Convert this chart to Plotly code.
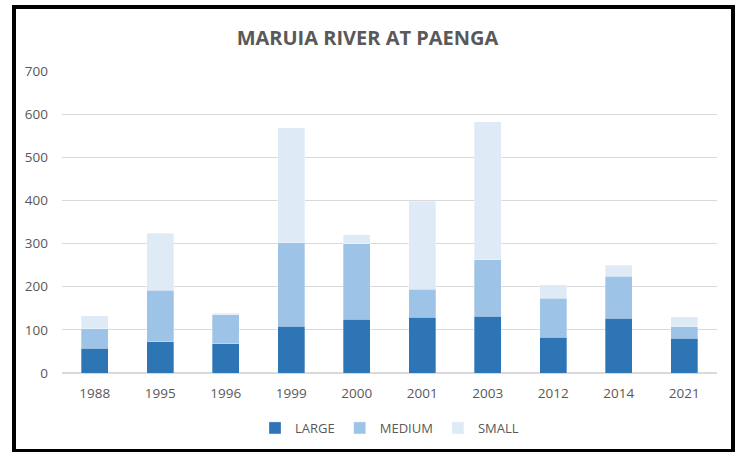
import plotly.graph_objects as go

years = ["1988", "1995", "1996", "1999", "2000", "2001", "2003", "2012", "2014", "2021"]
large = [57, 72, 68, 108, 125, 129, 131, 83, 127, 80]
medium = [46, 120, 67, 194, 175, 65, 131, 90, 97, 27]
small = [30, 132, 4, 267, 20, 204, 320, 31, 26, 23]

colors = {"LARGE": "#2E75B6", "MEDIUM": "#9DC3E6", "SMALL": "#DEEBF7"}
font_family = "Open Sans, DejaVu Sans, sans-serif"

fig = go.Figure()
for name, vals in [("LARGE", large), ("MEDIUM", medium), ("SMALL", small)]:
    fig.add_trace(go.Bar(
        x=years, y=vals, name=name,
        marker=dict(color=colors[name], line=dict(color="rgba(255,255,255,0.6)", width=0.5)),
    ))

W, H = 735, 452
ml, mr, mt, mb = 62, 18, 71, 79
pw, ph = W - ml - mr, H - mt - mb

def px_x(x):
    return (x - ml) / pw

def px_y(y):
    return (H - mb - y) / ph

fig.update_layout(
    template="none",
    width=W, height=H,
    barmode="stack", bargap=0.59,
    margin=dict(l=ml, r=mr, t=mt, b=mb, pad=0, autoexpand=False),
    paper_bgcolor="white", plot_bgcolor="white",
    font=dict(family=font_family, size=13, color="#595959"),
    title=dict(text="MARUIA RIVER AT PAENGA", x=0.5, xanchor="center",
               y=1 - 38 / H, yanchor="middle",
               font=dict(family=font_family, size=20, color="#595959", weight="bold")),
    showlegend=True,
    legend=dict(orientation="h", x=0.5, xanchor="center", y=px_y(428), yanchor="middle",
                traceorder="normal", font=dict(size=13, color="#595959"),
                itemwidth=30, tracegroupgap=0),
    xaxis=dict(type="category", showgrid=False, showline=False, ticks="", automargin=False,
               tickfont=dict(size=13.5, color="#595959"), ticklabelstandoff=10),
    yaxis=dict(range=[0, 700], dtick=100, showgrid=True, gridcolor="#D9D9D9", gridwidth=1,
               zeroline=True, zerolinecolor="#D9D9D9", zerolinewidth=1.5, automargin=False,
               showline=False, ticks="", tickfont=dict(size=13.5, color="#595959"),
               ticklabelstandoff=13),
    shapes=[dict(type="rect", xref="paper", yref="paper",
                 x0=px_x(14), x1=px_x(733), y0=px_y(451), y1=px_y(7),
                 line=dict(color="black", width=4), fillcolor="rgba(0,0,0,0)", layer="above")],
)

fig.write_html("out.html", config={"displayModeBar": False},
               post_script="document.body.style.margin='0';document.body.style.overflow='hidden';")
